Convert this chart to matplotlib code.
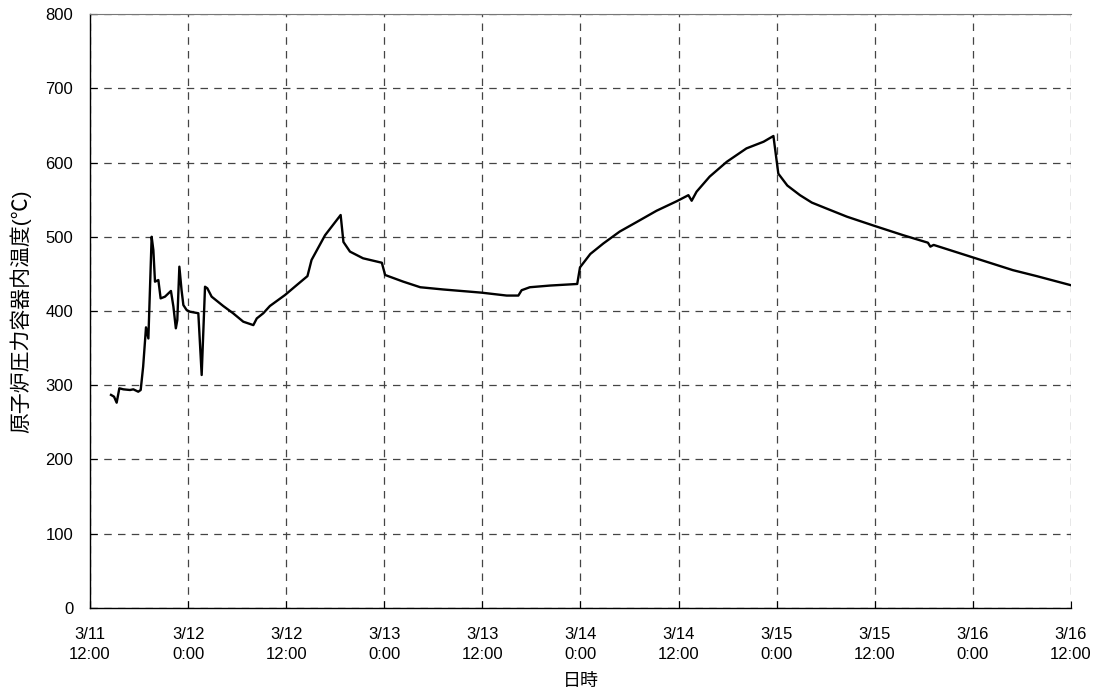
import numpy as np
import matplotlib.pyplot as plt

plt.rcParams['font.family'] = ['Liberation Sans', 'Noto Sans CJK JP', 'DejaVu Sans']

# hours since 3/11 12:00
hours = [2.57, 2.94, 3.26, 3.59, 4.08, 4.89, 5.3, 5.9, 6.2, 6.5, 6.85, 7.14, 7.54,
         7.75, 7.95, 8.36, 8.64, 9.17, 9.9, 10.2, 10.5, 10.68, 10.93, 11.2, 11.42,
         11.82, 12.23, 13.25, 13.66, 14.07, 14.35, 14.88, 16.3, 17.5, 18.75, 19.98,
         20.4, 21.2, 22.0, 23.85, 25.3, 26.6, 27.1, 28.75, 30.66, 31.0, 31.8, 33.4,
         35.7, 36.1, 38.3, 40.4, 43.2, 46.5, 47.9, 50.97, 52.4, 52.8, 53.8, 56.3,
         59.6, 59.94, 61.2, 62.8, 64.8, 66.9, 69.3, 71.8, 73.2, 73.6, 74.2, 75.8,
         77.9, 80.3, 82.4, 83.6, 84.2, 85.3, 86.85, 88.3, 90.1, 92.6, 96.0, 99.5,
         102.5, 102.8, 103.2, 108.05, 112.9, 115.8, 119.9]
temps = [287, 284.6, 276.5, 295.9, 294.5, 293.6, 294.5, 291.3, 293.6, 325, 378, 363, 500,
         482, 439.5, 441.7, 417, 419.3, 427, 406, 376.7, 387.9, 459.7, 428, 408,
         401.3, 399, 397, 313.8, 432.7, 430.6, 419.3, 406.7, 397, 385.6, 381,
         390, 397, 406.7, 421.5, 435, 447, 468.7, 502, 529.3, 493, 480, 471,
         465, 448.5, 439.6, 432, 429, 426, 424.7, 420.8, 420.8, 428, 432, 434.3,
         436.4, 458.8, 476.8, 491, 507, 520, 535, 548, 556, 548.5, 560.7, 581,
         601, 619, 628, 635.7, 585, 569, 556, 546, 538, 527, 514.5, 502,
         492, 486.7, 489, 472, 455, 447, 435]

tick_hours = np.arange(0, 121, 12)
tick_labels = ['3/11\n12:00', '3/12\n0:00', '3/12\n12:00', '3/13\n0:00', '3/13\n12:00',
               '3/14\n0:00', '3/14\n12:00', '3/15\n0:00', '3/15\n12:00', '3/16\n0:00',
               '3/16\n12:00']

fig = plt.figure(figsize=(10.99, 6.97), dpi=100)
ax = fig.add_axes([0.0819, 0.1277, 0.8926, 0.8522])

ax.plot(hours, temps, color='black', lw=1.7)

ax.set_xlim(0, 120)
ax.set_ylim(0, 800)
ax.set_xticks(tick_hours)
ax.set_xticklabels(tick_labels, fontsize=12, linespacing=1.4)
ax.set_yticks(np.arange(0, 801, 100))
ax.tick_params(axis='y', labelsize=12, pad=12)
ax.tick_params(axis='x', pad=14)
ax.tick_params(direction='in', length=5, width=0.8)
ax.grid(True, linestyle=(0, (6, 5)), color='#444444', lw=0.9)

ax.spines['right'].set_visible(False)
ax.spines['top'].set_color('#777777')
ax.spines['left'].set_linewidth(1)
ax.spines['bottom'].set_linewidth(1)

ax.set_xlabel('日時', fontsize=13, labelpad=8)
ax.set_ylabel('原子炉圧力容器内温度(℃)', fontsize=15, labelpad=10)

fig.savefig('out.png', dpi=100)
